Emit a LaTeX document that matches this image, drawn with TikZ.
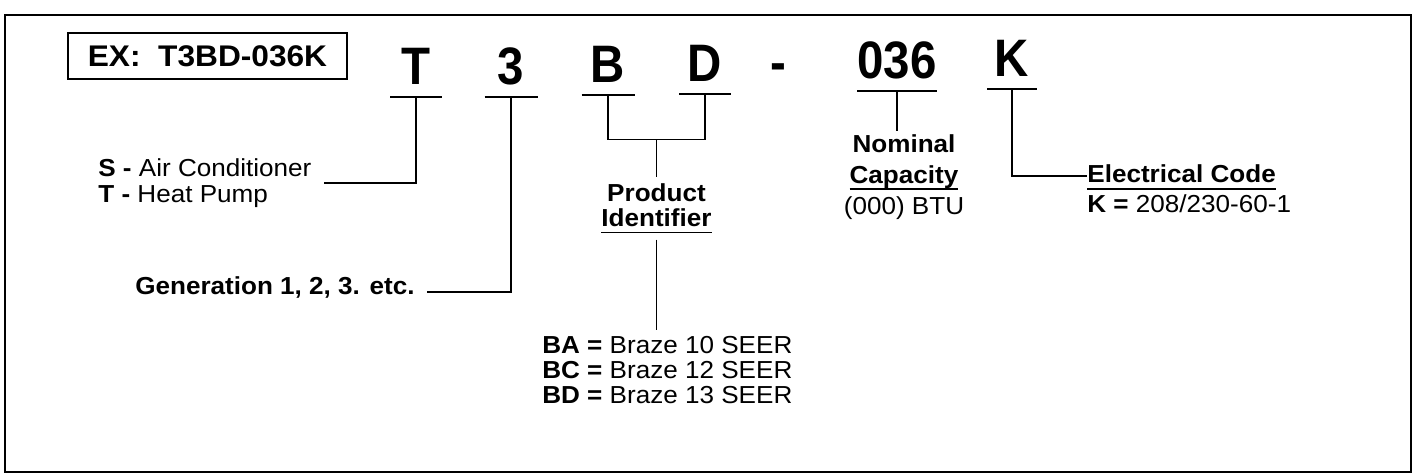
\documentclass[tikz,border=0pt]{standalone}
\usepackage{fontspec}
\setmainfont{Liberation Sans}[FakeStretch=1.06]
\newfontfamily\codefont{Liberation Sans}[FakeStretch=0.9]
\usetikzlibrary{
    positioning,
    calc
}
\newsavebox{\ulsave}
\newcommand{\ulined}[1]{\sbox{\ulsave}{#1}\rlap{\rule[-3.8pt]{\wd\ulsave}{0.9pt}}\usebox{\ulsave}}

\begin{document}
\begin{tikzpicture}[
    x=0.2mm, y=-0.2mm,
    frame/.style={draw, line width=1.3pt},
    exbox/.style={
        draw, rectangle, line width=1pt, minimum width=55.8mm,
        minimum height=9.2mm, inner sep=0pt,
        font=\bfseries\fontsize{17}{17}\selectfont
    },
    letter/.style={
        anchor=base, text depth=0pt, inner xsep=0pt, inner ysep=2.4mm,
        outer sep=0pt, font=\codefont\bfseries\fontsize{30}{30}\selectfont
    },
    desc/.style={
        inner sep=0pt, align=left, font=\fontsize{14}{14.2}\selectfont
    },
    line/.style={line width=1.05pt}
]

\useasboundingbox (0,0) rectangle (1417,476);
\draw[frame] (5,15) rectangle (1411,472);

% ============================== CODE ==============================
\node[exbox] (ex_box) at (207.5,56) {EX:\ \ T3BD-036K};

\node[letter, minimum width=10.4mm] (let_t) at (416,85) {T};
\node[letter, minimum width=10.6mm] (let_3) at (511,85) {3};
\node[letter, minimum width=10.6mm] (let_b) at (608,83) {B};
\node[letter, minimum width=10.4mm] (let_d) at (705,82) {D};
\node[letter] (let_dash) at (778,81) {-};
\node[letter, minimum width=14.8mm] (let_cap) at (897,79) {036};
\node[letter, minimum width=10mm] (let_k) at (1012,77) {K};

% underlines
\foreach \n in {let_t,let_3,let_b,let_d,let_cap,let_k}
    \draw[line] (\n.south west) -- (\n.south east);

% ============================== LABELS ==============================
\node[desc, anchor=base west] (lbl_ac) at (98,177) {\textbf{S -} Air Conditioner};
\node[desc, anchor=base west] (lbl_hp) at (98,203) {\textbf{T -} Heat Pump};
\node[desc, anchor=base west] (lbl_gen) at (135,295) {\textbf{Generation 1, 2, 3. etc.}};

\coordinate (bd_join) at ($(let_b.south)!0.5!(let_d.south)+(0,45)$);
\node[desc, align=center, inner ysep=1.2mm, below=7.6mm of bd_join] (lbl_prod) {\textbf{Product}\\\textbf{\ulined{Identifier}}};
\node[desc, anchor=north west, inner ysep=1.2mm] (lbl_seer) at (542,330)
    {\textbf{BA =} Braze 10 SEER\\\textbf{BC =} Braze 12 SEER\\\textbf{BD =} Braze 13 SEER};

\node[desc, align=center, inner ysep=0.6mm, below=8mm of let_cap, xshift=1.4mm, font=\fontsize{14}{17.6}\selectfont] (lbl_cap)
    {\textbf{Nominal}\\\textbf{\ulined{Capacity}}\\(000) BTU};

\node[desc, anchor=base west] (lbl_elec) at (1087,183) {\textbf{\ulined{Electrical Code}}};
\node[desc, anchor=base west] (lbl_volt) at ($(lbl_elec.base west)+(0,30)$) {\textbf{K =} 208/230-60-1};

% ============================== CONNECTORS ==============================
\draw[line] (let_t.south) |- ($(lbl_ac.base east)+(12,6)$);
\draw[line] (let_3.south) |- ($(lbl_gen.base east)+(12,-3)$);
\draw[line] (let_b.south) |- (bd_join) -| (let_d.south);
\draw[line] (bd_join) -- (lbl_prod.north);
\draw[line] (lbl_prod.south) -- (lbl_prod.south |- lbl_seer.north);
\draw[line] (let_cap.south) -- (let_cap.south |- lbl_cap.north);
\draw[line] (let_k.south) |- ($(lbl_elec.base west)+(0,-7)$);

\end{tikzpicture}
\end{document}
